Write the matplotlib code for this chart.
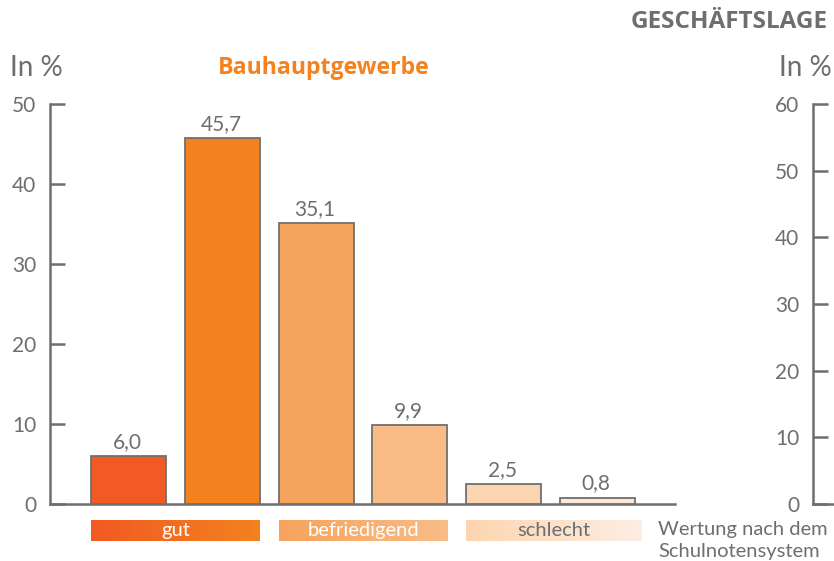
import matplotlib

matplotlib.use("Agg")
import matplotlib.pyplot as plt
import numpy as np
from matplotlib.colors import LinearSegmentedColormap

# data
values = [6.0, 45.7, 35.1, 9.9, 2.5, 0.8]
bar_colors = ["#F15A22", "#F3821F", "#F5A45D", "#F9BC87", "#FCD5B0", "#FDE9D9"]
left_ticks = [0, 10, 20, 30, 40, 50]
right_ticks = [0, 10, 20, 30, 40, 50, 60]
grades = ["gut", "befriedigend", "schlecht"]
grade_bars = [(0, 1), (2, 3), (4, 5)]
grade_colors = [("#F15A22", "#F3821F"), ("#F5A45D", "#F9BC87"), ("#FCD5B0", "#FDEEE3")]
grade_text = ["white", "white", "#6D6E71"]

GRAY = "#6D6E71"
EDGE = "#707070"
ORANGE = "#F3821F"
BOLD = ["Open Sans", "DejaVu Sans"]
plt.rcParams["font.family"] = ["Lato", "DejaVu Sans"]

W, H = 834, 561
fig = plt.figure(figsize=(W / 100, H / 100), dpi=100)

# main axes: left spine at x=50px, baseline y=504px, top y=104px
ax = fig.add_axes([50 / W, (H - 504) / H, (813 - 50) / W, 400 / H])
x = np.arange(len(values))
ax.bar(x, values, width=0.8, color=bar_colors, edgecolor=EDGE, linewidth=1.3, zorder=3)
for xi, v in zip(x, values):
    ax.annotate(f"{v:.1f}".replace(".", ","), (xi, v), xytext=(-1, 3),
                textcoords="offset points", ha="center", va="bottom",
                fontsize=15, color=GRAY)

# gradient strips under the bars
grad = np.linspace(0, 1, 256).reshape(1, -1)
for name, (i0, i1), (c0, c1), tc in zip(grades, grade_bars, grade_colors, grade_text):
    cmap = LinearSegmentedColormap.from_list(name, [c0, c1])
    x0, x1 = i0 - 0.4, i1 + 0.4 + (0.07 if name == "schlecht" else 0)
    ax.imshow(grad, cmap=cmap, extent=(x0, x1, -4.6, -2.0), aspect="auto",
              clip_on=False, zorder=2)
    ax.text((x0 + x1) / 2, -3.3, name, ha="center", va="center", fontsize=14.5,
            color=tc, clip_on=False)

xl0 = -(128.5 - 50) / 93.8
xl1 = (813 - 128.5) / 93.8
ax.set_xlim(xl0, xl1)
ax.set_ylim(0, 50)
ax.set_xticks([])
ax.set_yticks(left_ticks)
ax.tick_params(axis="y", direction="in", length=11, width=1.8, color=GRAY,
               labelsize=15, labelcolor=GRAY, pad=10)
for s in ("top", "right"):
    ax.spines[s].set_visible(False)
for s in ("left", "bottom"):
    ax.spines[s].set_color(GRAY)
    ax.spines[s].set_linewidth(1.8)
ax.spines["bottom"].set_bounds(xl0, (675 - 128.5) / 93.8)

# right-hand scale
ax2 = fig.add_axes([813 / W, (H - 504) / H, 20 / W, 400 / H])
ax2.set_ylim(0, 60)
ax2.set_xticks([])
ax2.set_yticks(right_ticks)
ax2.tick_params(axis="y", direction="in", length=11, width=1.8, color=GRAY,
                labelsize=15, labelcolor=GRAY, pad=10)
ax2.patch.set_visible(False)
for s in ("top", "right"):
    ax2.spines[s].set_visible(False)
for s in ("left", "bottom"):
    ax2.spines[s].set_color(GRAY)
    ax2.spines[s].set_linewidth(1.8)

# titles and labels
fig.text(828 / W, 1 - 22 / H, "GESCHÄFTSLAGE", ha="right", va="center",
         fontsize=17.5, fontweight="bold", color=GRAY, family=BOLD)
fig.text(324 / W, 1 - 68 / H, "Bauhauptgewerbe", ha="center", va="center",
         fontsize=16.7, fontweight="bold", color=ORANGE, family=BOLD)
fig.text(10 / W, 1 - 68 / H, "In %", ha="left", va="center", fontsize=20, color=GRAY)
fig.text(832 / W, 1 - 68 / H, "In %", ha="right", va="center", fontsize=20, color=GRAY)
fig.text(658 / W, 1 - 530 / H, "Wertung nach dem", ha="left", va="center",
         fontsize=14.5, color=GRAY)
fig.text(658 / W, 1 - 552 / H, "Schulnotensystem", ha="left", va="center",
         fontsize=14.5, color=GRAY)

fig.savefig("out.png", dpi=100)
